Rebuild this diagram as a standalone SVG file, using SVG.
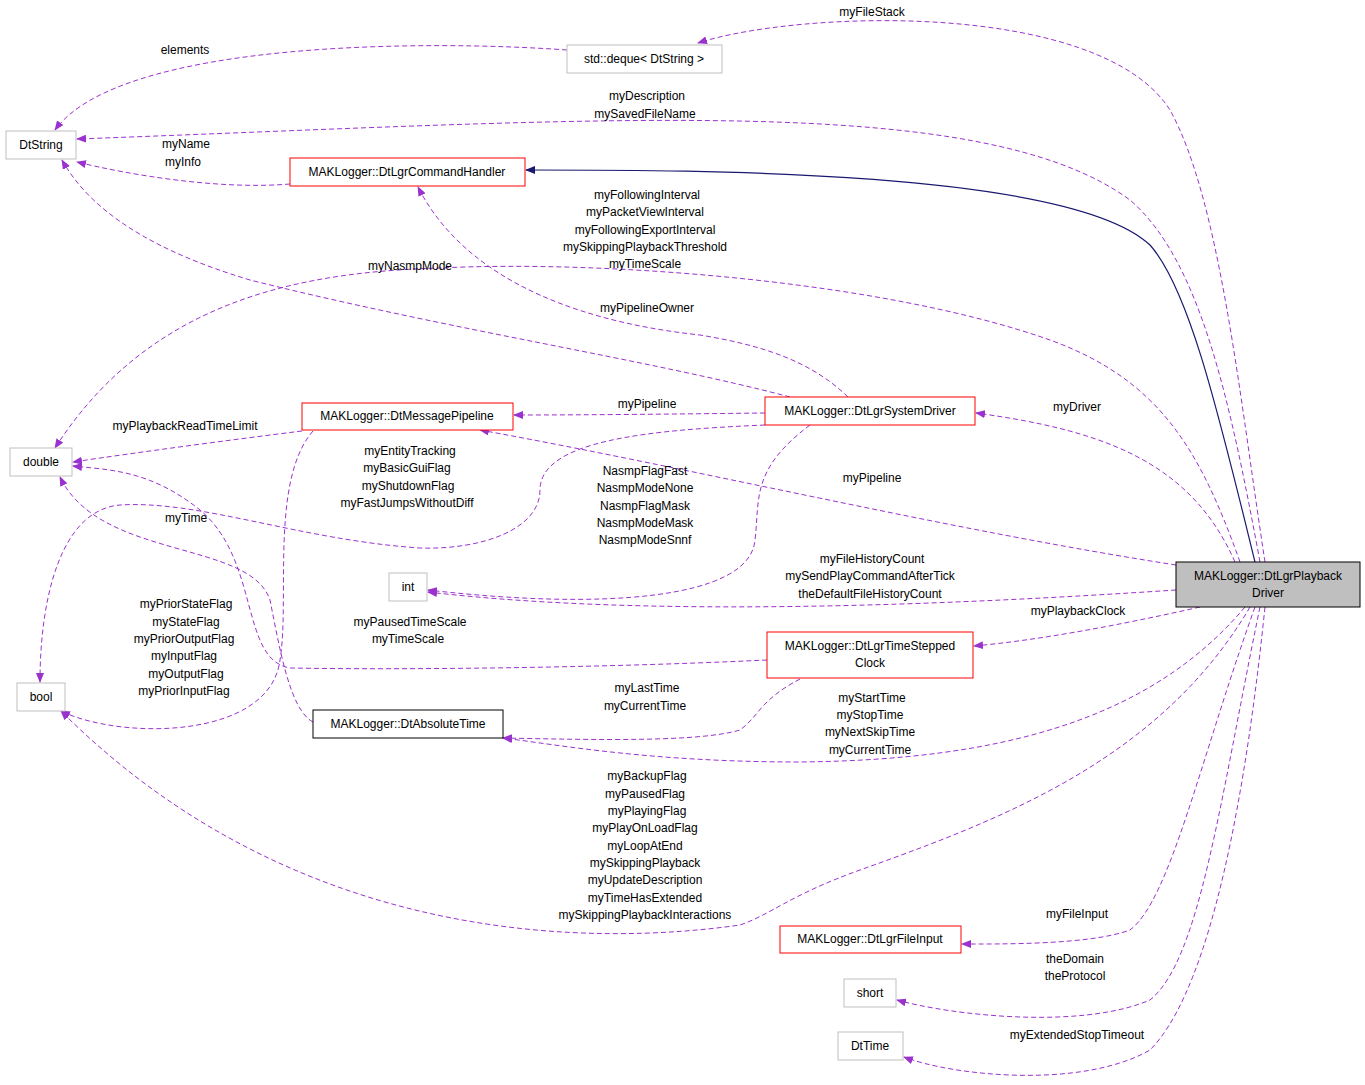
<svg xmlns="http://www.w3.org/2000/svg" width="1365" height="1085" viewBox="0 0 1365 1085">
<style>
text{font-family:"Liberation Sans",Arial,sans-serif;font-size:12px;fill:#000;text-anchor:middle}
.n{fill:#fff;stroke:#bfbfbf;stroke-width:1}
.r{fill:#fff;stroke:#ff0000;stroke-width:1}
.b{fill:#fff;stroke:#000;stroke-width:1}
.e{fill:none;stroke:#9a32cd;stroke-width:1;stroke-dasharray:5,3}
.s{fill:none;stroke:#191970;stroke-width:1.2}
</style>
<defs>
<marker id="a" markerWidth="10" markerHeight="8" refX="9" refY="4" orient="auto" markerUnits="userSpaceOnUse"><path d="M0,0L10,4L0,8z" fill="#9a32cd"/></marker>
<marker id="i" markerWidth="10" markerHeight="8" refX="9" refY="4" orient="auto" markerUnits="userSpaceOnUse"><path d="M0,0L10,4L0,8z" fill="#191970"/></marker>
</defs>
<rect width="1365" height="1085" fill="#fff"/>
<g id="edges">
<path class="e" marker-end="url(#a)" d="M567,50C430,40 120,40 55,130"/>
<path class="e" marker-end="url(#a)" d="M1265,562C1240,400 1220,200 1170,110C1100,0 800,10 698,43"/>
<path class="e" marker-end="url(#a)" d="M1260,562C1230,400 1200,260 1130,200C980,90 600,120 77,139"/>
<path class="e" marker-end="url(#a)" d="M290,184C220,190 130,175 77,162"/>
<path class="s" marker-end="url(#i)" d="M1255,562C1220,420 1190,290 1150,245C1070,170 700,170 526,170"/>
<path class="e" marker-end="url(#a)" d="M848,397C810,360 760,345 700,335C560,320 460,270 418,187"/>
<path class="e" marker-end="url(#a)" d="M790,397C650,360 450,330 250,280C150,250 90,210 62,160"/>
<path class="e" marker-end="url(#a)" d="M1240,562C1200,450 1160,380 1050,340C880,280 600,260 440,268C300,272 150,300 55,448"/>
<path class="e" marker-end="url(#a)" d="M302,431C230,440 140,452 73,462"/>
<path class="e" marker-end="url(#a)" d="M765,413C680,414 590,415 514,415"/>
<path class="e" marker-end="url(#a)" d="M1235,562C1190,460 1100,430 976,413"/>
<path class="e" marker-end="url(#a)" d="M1176,565C950,530 700,470 480,430"/>
<path class="e" marker-end="url(#a)" d="M765,425C650,430 540,440 540,490C540,530 480,550 420,548C300,540 200,500 120,505C60,510 40,600 40,682"/>
<path class="e" marker-end="url(#a)" d="M810,425C750,470 760,500 755,540C750,600 600,610 428,590"/>
<path class="e" marker-end="url(#a)" d="M1176,590C950,605 650,618 428,592"/>
<path class="e" marker-end="url(#a)" d="M313,722C290,710 280,650 270,600C250,540 100,560 60,477"/>
<path class="e" marker-end="url(#a)" d="M313,431C270,480 290,600 280,660C270,740 120,740 61,711"/>
<path class="e" marker-end="url(#a)" d="M767,660C600,668 400,670 290,668C240,660 260,560 200,510C150,470 110,470 73,466"/>
<path class="e" marker-end="url(#a)" d="M1200,607C1120,625 1040,640 974,646"/>
<path class="e" marker-end="url(#a)" d="M800,679C760,700 760,715 740,730C700,742 600,740 503,738"/>
<path class="e" marker-end="url(#a)" d="M1245,607C1150,720 1000,760 800,762C650,762 560,745 503,738"/>
<path class="e" marker-end="url(#a)" d="M1250,607C1160,760 1000,820 860,870C790,895 770,915 740,925C600,945 300,950 61,711"/>
<path class="e" marker-end="url(#a)" d="M1255,607C1200,760 1170,900 1130,930C1090,945 1000,944 962,944"/>
<path class="e" marker-end="url(#a)" d="M1260,607C1220,800 1200,960 1150,1000C1080,1030 950,1015 897,1000"/>
<path class="e" marker-end="url(#a)" d="M1265,607C1240,850 1200,1000 1150,1050C1080,1090 950,1075 904,1057"/>
</g>
<g id="labels">
<text x="185" y="54">elements</text>
<text x="872" y="16">myFileStack</text>
<text x="647" y="100">myDescription</text>
<text x="645" y="118">mySavedFileName</text>
<text x="186" y="148">myName</text>
<text x="183" y="166">myInfo</text>
<text x="647" y="199">myFollowingInterval</text>
<text x="645" y="216">myPacketViewInterval</text>
<text x="645" y="234">myFollowingExportInterval</text>
<text x="645" y="251">mySkippingPlaybackThreshold</text>
<text x="645" y="268">myTimeScale</text>
<text x="410" y="270">myNasmpMode</text>
<text x="647" y="312">myPipelineOwner</text>
<text x="647" y="408">myPipeline</text>
<text x="1077" y="411">myDriver</text>
<text x="185" y="430">myPlaybackReadTimeLimit</text>
<text x="410" y="455">myEntityTracking</text>
<text x="407" y="472">myBasicGuiFlag</text>
<text x="408" y="490">myShutdownFlag</text>
<text x="407" y="507">myFastJumpsWithoutDiff</text>
<text x="645" y="475">NasmpFlagFast</text>
<text x="645" y="492">NasmpModeNone</text>
<text x="645" y="510">NasmpFlagMask</text>
<text x="645" y="527">NasmpModeMask</text>
<text x="645" y="544">NasmpModeSnnf</text>
<text x="872" y="482">myPipeline</text>
<text x="186" y="522">myTime</text>
<text x="872" y="563">myFileHistoryCount</text>
<text x="870" y="580">mySendPlayCommandAfterTick</text>
<text x="870" y="598">theDefaultFileHistoryCount</text>
<text x="186" y="608">myPriorStateFlag</text>
<text x="186" y="626">myStateFlag</text>
<text x="184" y="643">myPriorOutputFlag</text>
<text x="184" y="660">myInputFlag</text>
<text x="186" y="678">myOutputFlag</text>
<text x="184" y="695">myPriorInputFlag</text>
<text x="410" y="626">myPausedTimeScale</text>
<text x="408" y="643">myTimeScale</text>
<text x="1078" y="615">myPlaybackClock</text>
<text x="647" y="692">myLastTime</text>
<text x="645" y="710">myCurrentTime</text>
<text x="872" y="702">myStartTime</text>
<text x="870" y="719">myStopTime</text>
<text x="870" y="736">myNextSkipTime</text>
<text x="870" y="754">myCurrentTime</text>
<text x="647" y="780">myBackupFlag</text>
<text x="645" y="798">myPausedFlag</text>
<text x="647" y="815">myPlayingFlag</text>
<text x="645" y="832">myPlayOnLoadFlag</text>
<text x="645" y="850">myLoopAtEnd</text>
<text x="645" y="867">mySkippingPlayback</text>
<text x="645" y="884">myUpdateDescription</text>
<text x="645" y="902">myTimeHasExtended</text>
<text x="645" y="919">mySkippingPlaybackInteractions</text>
<text x="1077" y="918">myFileInput</text>
<text x="1075" y="963">theDomain</text>
<text x="1075" y="980">theProtocol</text>
<text x="1077" y="1039">myExtendedStopTimeout</text>
</g>
<g id="deque"><rect class="n" x="567" y="45" width="155" height="28"/><text x="644" y="63">std::deque&lt; DtString &gt;</text></g>
<g id="dtstring"><rect class="n" x="6" y="131" width="70" height="28"/><text x="41" y="149">DtString</text></g>
<g id="cmdhandler"><rect class="r" x="290" y="158" width="235" height="28"/><text x="407" y="176">MAKLogger::DtLgrCommandHandler</text></g>
<g id="double"><rect class="n" x="10" y="448" width="62" height="28"/><text x="41" y="466">double</text></g>
<g id="msgpipeline"><rect class="r" x="302" y="403" width="211" height="27"/><text x="407" y="420">MAKLogger::DtMessagePipeline</text></g>
<g id="sysdriver"><rect class="r" x="765" y="397" width="210" height="28"/><text x="870" y="415">MAKLogger::DtLgrSystemDriver</text></g>
<g id="int"><rect class="n" x="389" y="573" width="38" height="28"/><text x="408" y="591">int</text></g>
<g id="playback"><rect x="1176" y="562" width="184" height="45" fill="#bfbfbf" stroke="#000"/><text x="1268" y="580">MAKLogger::DtLgrPlayback</text><text x="1268" y="597">Driver</text></g>
<g id="bool"><rect class="n" x="17" y="683" width="48" height="28"/><text x="41" y="701">bool</text></g>
<g id="clock"><rect class="r" x="767" y="632" width="206" height="46"/><text x="870" y="650">MAKLogger::DtLgrTimeStepped</text><text x="870" y="667">Clock</text></g>
<g id="abstime"><rect class="b" x="313" y="710" width="190" height="28"/><text x="408" y="728">MAKLogger::DtAbsoluteTime</text></g>
<g id="fileinput"><rect class="r" x="780" y="926" width="181" height="27"/><text x="870" y="943">MAKLogger::DtLgrFileInput</text></g>
<g id="short"><rect class="n" x="844" y="979" width="52" height="28"/><text x="870" y="997">short</text></g>
<g id="dttime"><rect class="n" x="838" y="1032" width="65" height="28"/><text x="870" y="1050">DtTime</text></g>
</svg>
